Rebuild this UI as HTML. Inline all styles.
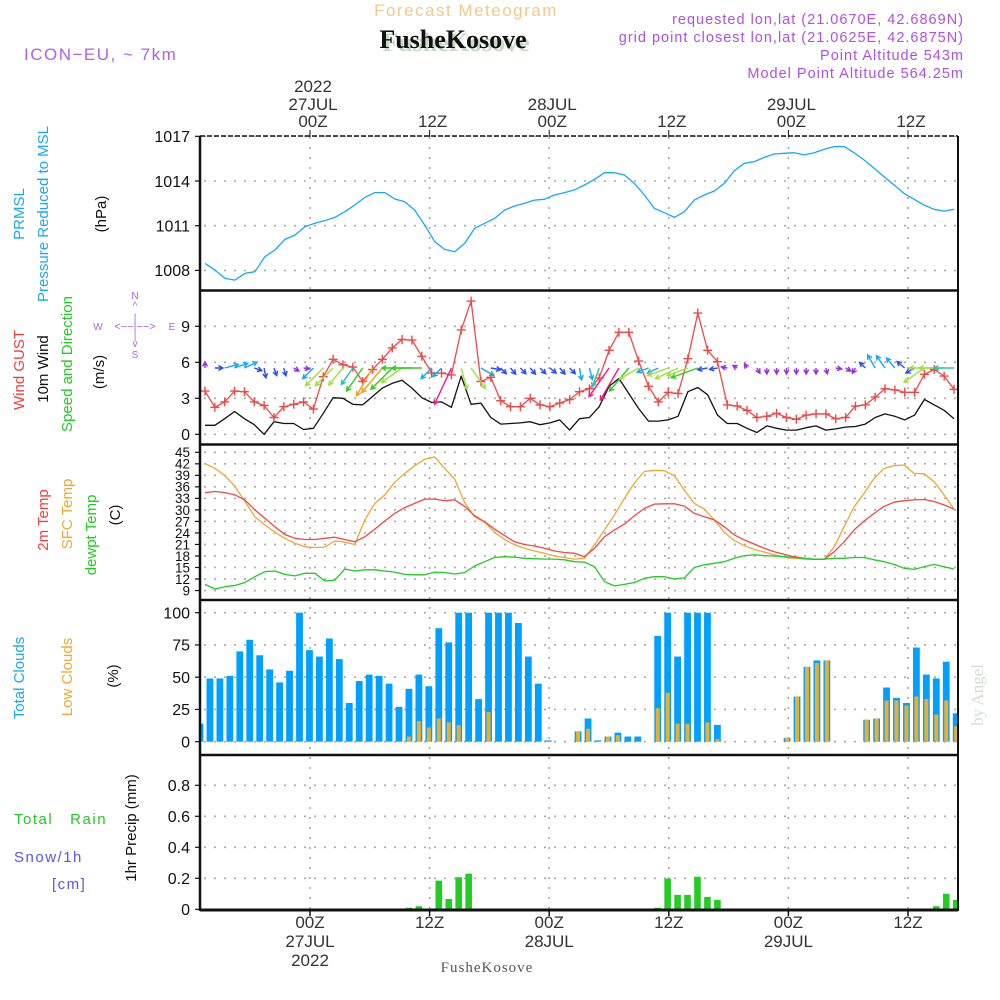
<!DOCTYPE html>
<html><head><meta charset="utf-8"><title>Meteogram FusheKosove</title>
<style>
html,body{margin:0;padding:0;background:#fff;}
svg{display:block;font-family:"Liberation Sans",sans-serif;}
</style></head>
<body>
<svg id="chart" width="1000" height="1000" viewBox="0 0 1000 1000" xmlns="http://www.w3.org/2000/svg">
<rect x="0" y="0" width="1000" height="1000" fill="#fff"/>
<!-- header -->
<text x="466" y="16" text-anchor="middle" font-size="17" fill="#f3c98a" letter-spacing="1.5">Forecast Meteogram</text>
<text x="24" y="60" font-size="17" fill="#b060e8" letter-spacing="1.5">ICON−EU, ~ 7km</text>
<text x="964" y="24" text-anchor="end" font-size="14.5" fill="#b050e0" letter-spacing="1">requested lon,lat (21.0670E, 42.6869N)</text>
<text x="964" y="42" text-anchor="end" font-size="14.5" fill="#b050e0" letter-spacing="1">grid point closest lon,lat (21.0625E, 42.6875N)</text>
<text x="964" y="60" text-anchor="end" font-size="14.5" fill="#b050e0" letter-spacing="1">Point Altitude 543m</text>
<text x="964" y="78" text-anchor="end" font-size="14.5" fill="#b050e0" letter-spacing="1">Model Point Altitude 564.25m</text>
<text x="456" y="51" text-anchor="middle" font-size="26" font-weight="bold" fill="#c8d8c8" font-family="Liberation Serif, serif">FusheKosove</text>
<text x="453" y="48" text-anchor="middle" font-size="26" font-weight="bold" fill="#111" font-family="Liberation Serif, serif">FusheKosove</text>

<!-- left axis titles -->
<g font-size="15">
<text transform="translate(24,214) rotate(-90)" text-anchor="middle" fill="#18a8f8">PRMSL</text>
<text transform="translate(48,214) rotate(-90)" text-anchor="middle" fill="#18a8f8">Pressure Reduced to MSL</text>
<text transform="translate(106,214) rotate(-90)" text-anchor="middle" fill="#111">(hPa)</text>
<text transform="translate(24,370) rotate(-90)" text-anchor="middle" fill="#f04040">Wind GUST</text>
<text transform="translate(48,369) rotate(-90)" text-anchor="middle" fill="#111">10m Wind</text>
<text transform="translate(72,364) rotate(-90)" text-anchor="middle" fill="#22cc22">Speed and Direction</text>
<text transform="translate(104,372) rotate(-90)" text-anchor="middle" fill="#111">(m/s)</text>
<text transform="translate(48,520) rotate(-90)" text-anchor="middle" fill="#f04040">2m Temp</text>
<text transform="translate(72,514) rotate(-90)" text-anchor="middle" fill="#f0a830">SFC Temp</text>
<text transform="translate(96,535) rotate(-90)" text-anchor="middle" fill="#22cc22">dewpt Temp</text>
<text transform="translate(120,515) rotate(-90)" text-anchor="middle" fill="#111">(C)</text>
<text transform="translate(24,678) rotate(-90)" text-anchor="middle" fill="#18a8f8">Total Clouds</text>
<text transform="translate(72,677) rotate(-90)" text-anchor="middle" fill="#f0a830">Low Clouds</text>
<text transform="translate(118,676) rotate(-90)" text-anchor="middle" fill="#111">(%)</text>
<text transform="translate(136,828) rotate(-90)" text-anchor="middle" fill="#111">1hr Precip (mm)</text>
<text x="14" y="824" fill="#22cc22" letter-spacing="1.5" xml:space="preserve">Total   Rain</text>
<text x="14" y="862" fill="#5555f0" letter-spacing="1.5">Snow/1h</text>
<text x="52" y="889" fill="#5555f0" letter-spacing="1.5">[cm]</text>
</g>
<!-- compass -->
<g fill="#b060e8" font-size="10">
<text x="135" y="299" text-anchor="middle">N</text>
<text x="135" y="309" text-anchor="middle">^</text>
<text x="135" y="358" text-anchor="middle">S</text>
<text x="135" y="347" text-anchor="middle">v</text>
<text x="98" y="330" text-anchor="middle">W</text>
<text x="172" y="330" text-anchor="middle">E</text>
<text x="135" y="330" text-anchor="middle" font-size="11">&lt;−−|−−&gt;</text>
<text x="135" y="321" text-anchor="middle">|</text>
<text x="135" y="340" text-anchor="middle">|</text>
</g>
<text transform="translate(983,695) rotate(-90)" text-anchor="middle" font-size="17" fill="#d4dcd4" font-family="Liberation Serif, serif">by Angel</text>
<text x="487" y="972" text-anchor="middle" font-size="15" fill="#555" font-family="Liberation Serif, serif" letter-spacing="1">FusheKosove</text>

<g id="grid"></g>
<g id="marks"></g>
<g id="frame"></g>
</svg>
<script>
// ---- data (hourly) ----
const timeTickLabels = ["00Z","12Z","00Z","12Z","00Z","12Z"];
const dateLabels = ["27JUL","","28JUL","","29JUL",""];
const yearLabels = ["2022","","","","",""];
const pressureTicks = [1008,1011,1014,1017];
const windTicks = [0,3,6,9];
const tempTicks = [9,12,15,18,21,24,27,30,33,36,39,42,45];
const cloudTicks = [0,25,50,75,100];
const precipTicks = [0,0.2,0.4,0.6,0.8];

const pressure = [1008.47,1008.02,1007.46,1007.35,1007.8,1007.91,1008.92,1009.37,1010.08,1010.37,
1010.93,1011.16,1011.34,1011.56,1011.94,1012.39,1012.9,1013.22,1013.22,1012.79,
1012.61,1012.05,1011.04,1009.93,1009.41,1009.25,1009.81,1010.82,1011.16,1011.49,
1012.05,1012.32,1012.5,1012.72,1012.77,1013.06,1013.22,1013.4,
1013.73,1014.11,1014.56,1014.56,1014.4,1013.84,1013.06,1012.16,1011.87,1011.56,
1011.94,1012.72,1013.06,1013.33,1013.84,1014.69,1015.19,1015.3,1015.59,1015.81,
1015.86,1015.9,1015.75,1015.9,1016.13,1016.31,1016.31,1015.9,1015.41,1014.85,
1014.29,1013.73,1013.17,1012.77,1012.39,1012.1,1011.98,1012.1];

const windGust = [3.6,2.25,2.7,3.6,3.55,2.7,2.4,1.4,2.3,2.5,2.7,2.1,4.8,6.25,5.8,5.6,4.4,5.4,6.25,7.2,
7.9,7.85,6.5,5.1,5.1,4.95,8.7,11.1,4.4,4.75,2.8,2.3,2.3,3,2.45,2.3,2.6,2.9,3.55,
3.8,4.7,7,8.5,8.5,6.1,4,2.7,3.5,3.4,6.3,10.1,7,6.05,2.45,2.35,2,1.4,1.5,1.75,
1.4,1.25,1.6,1.7,1.7,1.3,1.4,2.35,2.45,3.1,3.8,3.7,3.5,3.5,5,5.4,4.85,3.75];

const wind10m = [0.75,0.75,1.3,1.9,1.3,0.8,0,1.05,0.9,0.9,0.4,0.5,1.75,3.05,3,2.5,2.45,3.15,3.85,4.25,
4.5,3.85,3.05,2.65,2.7,2.25,4.85,2.5,2.6,1.4,0.85,0.9,0.95,1.05,0.8,0.95,1.2,0.35,1.3,
1.4,2.3,4,4.65,3.4,2.15,1.1,1.1,1.2,1.5,3.55,3.9,3.3,1.6,0.9,0.9,0.5,0.15,0.7,0.5,
0.35,0.35,0.55,0.7,0.35,0.45,0.6,0.65,0.85,1.4,1.7,1.5,1.2,1.6,2.9,2.45,2,1.3];

// arrow heading (deg, direction the arrow points, 0=N) and arrow speed
const windHeading = [0,90,75,70,65,110,170,160,165,120,100,225,225,225,220,215,215,210,220,225,
235,270,270,225,225,205,165,145,120,100,135,140,135,140,135,130,140,135,170,165,
200,215,210,220,240,250,245,250,245,250,250,260,260,280,300,330,150,180,180,180,
180,180,180,165,100,120,210,315,330,325,320,310,240,235,270,270,270];
const windArrowSpeed = [1.5,2,3.5,3.5,3.5,2,2.5,2,2,1.5,1.5,3.75,6.25,6.25,5.5,5,7,8,8,7.5,
6.25,7.5,7.5,3.75,3,10,5.5,6.25,3.75,2.5,2,2,2,2,2,2,2,2,3,3,
5,8.75,9.25,7.5,5.5,3,3,5.5,6.25,5.5,7,2.5,2,1.5,1.25,1.25,1.5,1.5,1.5,1.5,
1.5,1.5,1.5,1.5,1.5,1.5,1.5,2,3.75,3.75,3.25,2.5,2.5,6.25,6.25,6.25,5];

const temp2m = [34.5,34.8,34.5,33.9,32.6,30,27.8,25.6,23.6,22.6,22.3,22.3,22.6,22.9,22.3,21.7,23,25,27.1,29.1,
30.6,31.7,32.8,32.8,32.4,32.6,30.9,28.5,26.9,25,23.3,21.7,21,20.6,20,19.3,18.9,18.7,17.8,
20,23,24.8,26.3,28.5,30.4,31.5,31.6,31.6,31,29.1,28.2,27.4,25.6,23.5,22.2,21.1,20,19.1,18.4,
17.8,17.4,17.1,17.1,19.1,21.7,24.8,27.1,29.1,30.9,32,32.4,32.6,32.7,32.2,31.3,30.2];
const tempSfc = [42.1,40.8,38.9,36.1,32.2,28.2,26.1,24.2,22.6,21.3,20.4,20.2,20.3,21.9,21.6,21,27.4,31.7,33.9,37.2,
39.5,41.5,43.2,43.8,40.8,38,31.9,28.2,26.8,24.2,22.3,20.9,20,19.3,18.7,18,17.6,17.2,17.4,
20.9,24.8,28.7,33,37,40,40.3,40.2,38.9,35.1,31.7,30.2,27.4,24.2,22,20.7,19.7,19,18.3,17.7,
17.4,17.2,17.1,17.1,20.4,25.6,30.8,34.3,38.2,40.8,41.5,41.7,39.5,39.4,37.4,33.9,30.2];
const tempDew = [10.6,9.4,10,10.3,11.1,12.6,13.9,14.1,13.2,12.8,13.5,13.5,11.5,11.7,14.6,14.1,14.4,14.4,14.1,13.8,
13.2,13.1,13.1,13.8,13.7,13.3,13.7,15.4,16.5,17.6,17.8,17.7,17.4,17.3,17.2,17.2,17,16.5,16.4,
15.2,11.3,10.2,10.6,11.1,12.2,12.6,12.6,12,12.3,15,15.7,16.1,16.5,17.4,18.1,18.3,18.1,18,17.8,
17.6,17.4,17.2,17.2,17.4,17.4,17.6,17.6,17,16.5,15.8,14.8,14.5,15.2,15.8,15.2,14.6];

const totalClouds = [14,49,49,51,70,79,67,56,46,55,100,71,66,80,64,30,47,52,51,45,
27,41,52,43,88,77,100,100,33,100,100,100,92,66,45,1,0,0,8,18,
1,4,7,4,4,0,82,100,66,100,100,100,13,0,0,0,0,0,0,3,
35,58,63,63,0,0,0,17,18,42,34,30,73,52,49,62,22];
const lowClouds = [0,0,0,0,0,0,0,0,0,0,0,0,0,0,0,0,0,0,0,0,
0,4,16,11,18,15,13,0,0,23,0,0,0,0,0,0,0,0,8,10,
0,4,5,0,0,0,26,38,14,14,0,15,2,0,0,0,0,0,0,3,
35,58,61,63,0,0,0,17,18,32,32,28,35,33,21,32,12];
const precip = [0,0,0,0,0,0,0,0,0,0,0,0,0,0,0,0,0,0,0,0,
0,0.01,0.02,0,0.185,0.067,0.207,0.23,0,0,0,0,0,0,0,0,0,0,0,0,
0,0,0,0,0,0,0.01,0.198,0.093,0.093,0.21,0.08,0.06,0,0,0,0,0,0,0,
0,0,0,0,0,0,0,0,0,0,0,0,0,0.005,0.02,0.1,0.06];

// ---- layout ----
const NS="http://www.w3.org/2000/svg";
const L=200, R=958;
const timeGridX = i => 310 + i*119.6;
const lineX = (i,n) => 205 + i*(749/(n-1));
const barX = j => 200 + j*9.95;
const yP = v => 181 + (1014 - v)*14.9;
const yW = v => 434.3 - v*12;
const yT = v => 452.3 + (45 - v)*3.84;
const yC = v => 741.7 - v*1.29;
const yR = v => 909.3 - v*155;

function el(tag, attrs, parent){
  const e=document.createElementNS(NS,tag);
  for(const k in attrs) e.setAttribute(k, attrs[k]);
  parent.appendChild(e); return e;
}
const gridG=document.getElementById('grid');
const marksG=document.getElementById('marks');
const frameG=document.getElementById('frame');
const GRID={stroke:"#a8a8a8","stroke-width":1.6,"stroke-dasharray":"2,8"};

// vertical grid + time labels
timeTickLabels.forEach((lab,i)=>{
  const x=timeGridX(i);
  const g=el('line',Object.assign({x1:x,x2:x,y1:137,y2:909},GRID),gridG);
  
  
  const t1=el('line',{x1:x,x2:x,y1:130,y2:137,stroke:"#111","stroke-width":1},frameG);
  
  
  const t2=el('line',{x1:x,x2:x,y1:909,y2:916,stroke:"#111","stroke-width":1.5},frameG);
  
  
  const a=el('text',{x:x+3,y:127,"text-anchor":"middle","font-size":17,fill:"#333"},frameG);
  a.textContent=lab;
  
  
  if(dateLabels[i]){
    const d=el('text',{x:x+3,y:110,"text-anchor":"middle","font-size":17,fill:"#333"},frameG);
    d.textContent=dateLabels[i];
    
    
    const d2=el('text',{x:x,y:947,"text-anchor":"middle","font-size":17,fill:"#333"},frameG);
    d2.textContent=dateLabels[i];
    
    
  }
  if(yearLabels[i]){
    const y1=el('text',{x:x+3,y:92,"text-anchor":"middle","font-size":17,fill:"#333"},frameG);
    y1.textContent=yearLabels[i];
    
    
    const y2=el('text',{x:x,y:966,"text-anchor":"middle","font-size":17,fill:"#333"},frameG);
    y2.textContent=yearLabels[i];
    
    
  }
  const b=el('text',{x:x,y:928,"text-anchor":"middle","font-size":17,fill:"#333"},frameG);
  b.textContent=lab;
  
  
});

// horizontal grids + y tick labels
function yAxis(ticks, fy, name, fs, fmt){
  ticks.forEach(v=>{
    const y=fy(v);
    const g=el('line',Object.assign({x1:L+4,x2:R,y1:y,y2:y},GRID),gridG);
    
    
    const tk=el('line',{x1:L-5,x2:L,y1:y,y2:y,stroke:"#111","stroke-width":1.2},frameG);
    
    
    const t=el('text',{x:L-10,y:y+fs*0.36,"text-anchor":"end","font-size":fs,fill:"#111"},frameG);
    t.textContent=fmt?fmt(v):v;
    
    
  });
}
yAxis(pressureTicks,yP,'pressure',16);
yAxis(windTicks,yW,'wind',16);
yAxis(tempTicks,yT,'temp',13.5);
yAxis(cloudTicks,yC,'cloud',16);
yAxis(precipTicks,yR,'precip',16,v=>v===0?"0":v.toFixed(1));

// ---- marks ----
function polyline(arr, fy, color, name, w){
  const pts=arr.map((v,i)=>lineX(i,arr.length).toFixed(1)+","+fy(v).toFixed(1)).join(" ");
  const p=el('polyline',{points:pts,fill:"none",stroke:color,"stroke-width":w||1.3,"stroke-linejoin":"round"},marksG);
  
  
}
polyline(pressure,yP,"#18a8f8","pressure-line");
polyline(wind10m,yW,"#111","wind-10m-line");
polyline(windGust,yW,"#f04848","wind-gust-line");
windGust.forEach((v,i)=>{
  const x=lineX(i,windGust.length), y=yW(v);
  const c=el('path',{d:`M${x-4.5},${y}H${x+4.5}M${x},${y-4.5}V${y+4.5}`,stroke:"#f04848","stroke-width":1.4},marksG);
  
  
});
function arrowColor(s){
  if(s<=1.6) return "#9a2be6";
  if(s<=2.6) return "#2a4cf0";
  if(s<=3.8) return "#18a8f0";
  if(s<=5) return "#20c8a8";
  if(s<=6.3) return "#a0e040";
  if(s<=7.6) return "#30cc20";
  if(s<=8.4) return "#f0a020";
  return "#f01890";
}
windHeading.forEach((h,i)=>{
  const s=windArrowSpeed[i];
  const len=s*4;
  const x0=lineX(i,windHeading.length), y0=368;
  const a=h*Math.PI/180;
  const x1=x0+Math.sin(a)*len, y1=y0-Math.cos(a)*len;
  const hl=5, ha=0.5;
  const bx1=x1-Math.sin(a-ha)*hl, by1=y1+Math.cos(a-ha)*hl;
  const bx2=x1-Math.sin(a+ha)*hl, by2=y1+Math.cos(a+ha)*hl;
  const p=el('path',{d:`M${x0.toFixed(1)},${y0}L${x1.toFixed(1)},${y1.toFixed(1)}M${bx1.toFixed(1)},${by1.toFixed(1)}L${x1.toFixed(1)},${y1.toFixed(1)}L${bx2.toFixed(1)},${by2.toFixed(1)}`,fill:"none",stroke:arrowColor(s),"stroke-width":1.4},marksG);
  
  
});
polyline(tempSfc,yT,"#f0a830","sfc-temp-line");
polyline(temp2m,yT,"#f04848","temp-2m-line");
polyline(tempDew,yT,"#22cc22","dewpoint-line");

totalClouds.forEach((v,j)=>{
  const cx=barX(j);
  let x1=Math.max(L+1,cx-3.4), x2=Math.min(R-1,cx+3.4);
  if(x2>x1 && v>0){
    const r=el('rect',{x:x1,y:yC(v),width:x2-x1,height:yC(0)-yC(v),fill:"#00a0ff"},marksG);
    
    
  }
  const lv=lowClouds[j];
  x1=Math.max(L+1,cx-2); x2=Math.min(R-1,cx+2);
  if(x2>x1 && lv>0){
    const r2=el('rect',{x:x1,y:yC(lv),width:x2-x1,height:yC(0)-yC(lv),fill:"#e8b030"},marksG);
    
    
  }
});
precip.forEach((v,j)=>{
  if(v<=0) return;
  const cx=barX(j);
  const x1=Math.max(L+1,cx-3.3), x2=Math.min(R-1,cx+3.3);
  const r=el('rect',{x:x1,y:yR(v),width:x2-x1,height:yR(0)-yR(v),fill:"#22cc22"},marksG);
  
  
});

// ---- frame ----
const topBorder=el('line',{x1:L,x2:R,y1:136,y2:136,stroke:"#111","stroke-width":1.5,"stroke-dasharray":"5,2"},frameG);


[290.5,444.5,600,755,910].forEach((y,i)=>{
  const l=el('line',{x1:L,x2:R,y1:y,y2:y,stroke:"#111","stroke-width":i===4?3:2.5},frameG);
  
  
});
const leftAxis=el('line',{x1:L,x2:L,y1:136,y2:911,stroke:"#111","stroke-width":2.5},frameG);


const rightBorder=el('line',{x1:R,x2:R,y1:136,y2:911,stroke:"#111","stroke-width":2},frameG);


</script>
</body></html>
